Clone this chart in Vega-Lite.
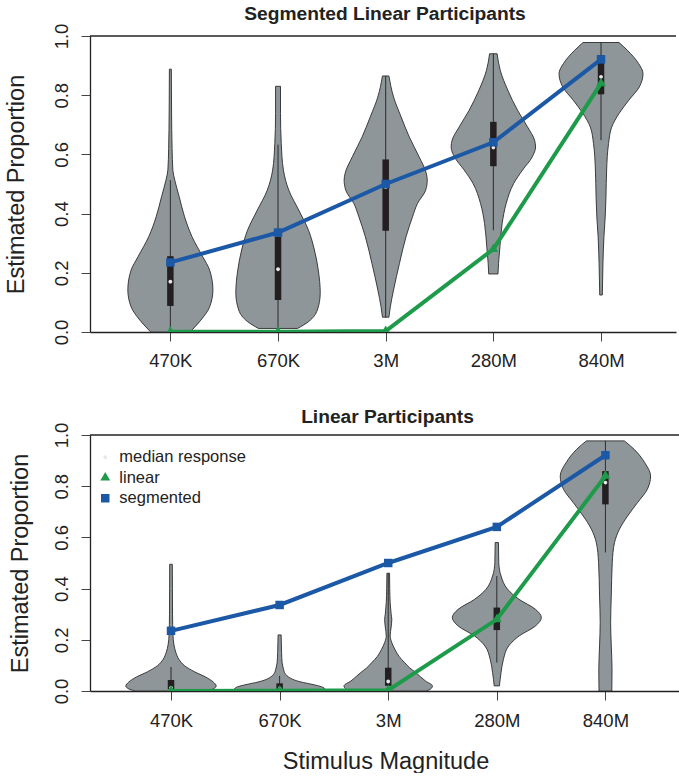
{
  "$schema": "https://vega.github.io/schema/vega-lite/v6.json",
  "padding": {"left": 4, "top": 4, "right": 0, "bottom": 0},
  "spacing": 37,
  "datasets": {
    "vio": [
      {"p":"T","c":1,"y":0.888,"l":0.991,"r":1.009},{"p":"T","c":1,"y":0.75,"l":0.989,"r":1.011},{"p":"T","c":1,"y":0.62,"l":0.984,"r":1.016},{"p":"T","c":1,"y":0.547,"l":0.977,"r":1.023},{"p":"T","c":1,"y":0.513,"l":0.959,"r":1.041},{"p":"T","c":1,"y":0.457,"l":0.918,"r":1.082},{"p":"T","c":1,"y":0.389,"l":0.868,"r":1.132},{"p":"T","c":1,"y":0.322,"l":0.799,"r":1.201},{"p":"T","c":1,"y":0.254,"l":0.699,"r":1.301},{"p":"T","c":1,"y":0.209,"l":0.635,"r":1.365},{"p":"T","c":1,"y":0.142,"l":0.605,"r":1.395},{"p":"T","c":1,"y":0.085,"l":0.635,"r":1.365},{"p":"T","c":1,"y":0.04,"l":0.717,"r":1.283},{"p":"T","c":1,"y":0.0,"l":0.818,"r":1.182},
      {"p":"T","c":2,"y":0.83,"l":1.977,"r":2.023},{"p":"T","c":2,"y":0.738,"l":1.977,"r":2.023},{"p":"T","c":2,"y":0.637,"l":1.97,"r":2.03},{"p":"T","c":2,"y":0.547,"l":1.95,"r":2.05},{"p":"T","c":2,"y":0.479,"l":1.9,"r":2.1},{"p":"T","c":2,"y":0.412,"l":1.808,"r":2.192},{"p":"T","c":2,"y":0.344,"l":1.717,"r":2.283},{"p":"T","c":2,"y":0.277,"l":1.662,"r":2.338},{"p":"T","c":2,"y":0.209,"l":1.626,"r":2.374},{"p":"T","c":2,"y":0.132,"l":1.608,"r":2.392},{"p":"T","c":2,"y":0.074,"l":1.635,"r":2.365},{"p":"T","c":2,"y":0.035,"l":1.717,"r":2.283},{"p":"T","c":2,"y":0.012,"l":1.818,"r":2.182},
      {"p":"T","c":3,"y":0.865,"l":2.97,"r":3.03},{"p":"T","c":3,"y":0.794,"l":2.927,"r":3.073},{"p":"T","c":3,"y":0.727,"l":2.857,"r":3.143},{"p":"T","c":3,"y":0.659,"l":2.781,"r":3.219},{"p":"T","c":3,"y":0.592,"l":2.69,"r":3.31},{"p":"T","c":3,"y":0.536,"l":2.623,"r":3.377},{"p":"T","c":3,"y":0.513,"l":2.614,"r":3.386},{"p":"T","c":3,"y":0.479,"l":2.629,"r":3.371},{"p":"T","c":3,"y":0.434,"l":2.705,"r":3.295},{"p":"T","c":3,"y":0.389,"l":2.751,"r":3.249},{"p":"T","c":3,"y":0.322,"l":2.811,"r":3.189},{"p":"T","c":3,"y":0.232,"l":2.872,"r":3.128},{"p":"T","c":3,"y":0.142,"l":2.927,"r":3.073},{"p":"T","c":3,"y":0.085,"l":2.957,"r":3.043},{"p":"T","c":3,"y":0.05,"l":2.97,"r":3.03},
      {"p":"T","c":4,"y":0.94,"l":3.965,"r":4.035},{"p":"T","c":4,"y":0.884,"l":3.936,"r":4.064},{"p":"T","c":4,"y":0.817,"l":3.866,"r":4.134},{"p":"T","c":4,"y":0.749,"l":3.775,"r":4.225},{"p":"T","c":4,"y":0.693,"l":3.683,"r":4.317},{"p":"T","c":4,"y":0.648,"l":3.617,"r":4.383},{"p":"T","c":4,"y":0.625,"l":3.608,"r":4.392},{"p":"T","c":4,"y":0.592,"l":3.638,"r":4.362},{"p":"T","c":4,"y":0.547,"l":3.729,"r":4.271},{"p":"T","c":4,"y":0.502,"l":3.811,"r":4.189},{"p":"T","c":4,"y":0.434,"l":3.881,"r":4.119},{"p":"T","c":4,"y":0.367,"l":3.918,"r":4.082},{"p":"T","c":4,"y":0.288,"l":3.939,"r":4.061},{"p":"T","c":4,"y":0.232,"l":3.952,"r":4.048},{"p":"T","c":4,"y":0.196,"l":3.957,"r":4.043},
      {"p":"T","c":5,"y":0.978,"l":4.833,"r":5.167},{"p":"T","c":5,"y":0.952,"l":4.756,"r":5.244},{"p":"T","c":5,"y":0.907,"l":4.651,"r":5.349},{"p":"T","c":5,"y":0.873,"l":4.61,"r":5.39},{"p":"T","c":5,"y":0.828,"l":4.644,"r":5.356},{"p":"T","c":5,"y":0.783,"l":4.742,"r":5.258},{"p":"T","c":5,"y":0.738,"l":4.833,"r":5.167},{"p":"T","c":5,"y":0.693,"l":4.9,"r":5.1},{"p":"T","c":5,"y":0.637,"l":4.93,"r":5.07},{"p":"T","c":5,"y":0.547,"l":4.948,"r":5.052},{"p":"T","c":5,"y":0.457,"l":4.954,"r":5.046},{"p":"T","c":5,"y":0.389,"l":4.961,"r":5.039},{"p":"T","c":5,"y":0.322,"l":4.973,"r":5.027},{"p":"T","c":5,"y":0.232,"l":4.982,"r":5.018},{"p":"T","c":5,"y":0.125,"l":4.988,"r":5.012},
      {"p":"B","c":1,"y":0.495,"l":0.988,"r":1.012},{"p":"B","c":1,"y":0.4,"l":0.987,"r":1.013},{"p":"B","c":1,"y":0.3,"l":0.986,"r":1.014},{"p":"B","c":1,"y":0.22,"l":0.982,"r":1.018},{"p":"B","c":1,"y":0.18,"l":0.973,"r":1.027},{"p":"B","c":1,"y":0.15,"l":0.955,"r":1.045},{"p":"B","c":1,"y":0.124,"l":0.928,"r":1.072},{"p":"B","c":1,"y":0.098,"l":0.873,"r":1.127},{"p":"B","c":1,"y":0.075,"l":0.783,"r":1.217},{"p":"B","c":1,"y":0.055,"l":0.683,"r":1.317},{"p":"B","c":1,"y":0.035,"l":0.611,"r":1.389},{"p":"B","c":1,"y":0.02,"l":0.584,"r":1.416},{"p":"B","c":1,"y":0.008,"l":0.611,"r":1.389},{"p":"B","c":1,"y":0.0,"l":0.674,"r":1.326},
      {"p":"B","c":2,"y":0.219,"l":1.986,"r":2.014},{"p":"B","c":2,"y":0.15,"l":1.982,"r":2.018},{"p":"B","c":2,"y":0.111,"l":1.977,"r":2.023},{"p":"B","c":2,"y":0.085,"l":1.964,"r":2.036},{"p":"B","c":2,"y":0.072,"l":1.955,"r":2.045},{"p":"B","c":2,"y":0.055,"l":1.919,"r":2.081},{"p":"B","c":2,"y":0.046,"l":1.882,"r":2.118},{"p":"B","c":2,"y":0.035,"l":1.801,"r":2.199},{"p":"B","c":2,"y":0.026,"l":1.701,"r":2.299},{"p":"B","c":2,"y":0.016,"l":1.611,"r":2.389},{"p":"B","c":2,"y":0.008,"l":1.584,"r":2.416},{"p":"B","c":2,"y":0.0,"l":1.62,"r":2.38},
      {"p":"B","c":3,"y":0.46,"l":2.988,"r":3.012},{"p":"B","c":3,"y":0.4,"l":2.986,"r":3.014},{"p":"B","c":3,"y":0.345,"l":2.982,"r":3.018},{"p":"B","c":3,"y":0.3,"l":2.973,"r":3.027},{"p":"B","c":3,"y":0.28,"l":2.967,"r":3.033},{"p":"B","c":3,"y":0.25,"l":2.973,"r":3.027},{"p":"B","c":3,"y":0.215,"l":2.982,"r":3.018},{"p":"B","c":3,"y":0.19,"l":2.968,"r":3.032},{"p":"B","c":3,"y":0.163,"l":2.939,"r":3.061},{"p":"B","c":3,"y":0.135,"l":2.9,"r":3.1},{"p":"B","c":3,"y":0.111,"l":2.849,"r":3.151},{"p":"B","c":3,"y":0.09,"l":2.801,"r":3.199},{"p":"B","c":3,"y":0.072,"l":2.747,"r":3.253},{"p":"B","c":3,"y":0.055,"l":2.701,"r":3.299},{"p":"B","c":3,"y":0.039,"l":2.656,"r":3.344},{"p":"B","c":3,"y":0.02,"l":2.593,"r":3.407},{"p":"B","c":3,"y":0.007,"l":2.611,"r":3.389},{"p":"B","c":3,"y":0.0,"l":2.656,"r":3.344},
      {"p":"B","c":4,"y":0.58,"l":3.985,"r":4.015},{"p":"B","c":4,"y":0.502,"l":3.982,"r":4.018},{"p":"B","c":4,"y":0.449,"l":3.961,"r":4.039},{"p":"B","c":4,"y":0.397,"l":3.9,"r":4.1},{"p":"B","c":4,"y":0.358,"l":3.795,"r":4.205},{"p":"B","c":4,"y":0.319,"l":3.644,"r":4.356},{"p":"B","c":4,"y":0.287,"l":3.59,"r":4.41},{"p":"B","c":4,"y":0.254,"l":3.644,"r":4.356},{"p":"B","c":4,"y":0.215,"l":3.795,"r":4.205},{"p":"B","c":4,"y":0.176,"l":3.891,"r":4.109},{"p":"B","c":4,"y":0.124,"l":3.939,"r":4.061},{"p":"B","c":4,"y":0.072,"l":3.961,"r":4.039},{"p":"B","c":4,"y":0.02,"l":3.976,"r":4.024},
      {"p":"B","c":5,"y":0.977,"l":4.825,"r":5.175},{"p":"B","c":5,"y":0.944,"l":4.735,"r":5.265},{"p":"B","c":5,"y":0.892,"l":4.638,"r":5.362},{"p":"B","c":5,"y":0.84,"l":4.584,"r":5.416},{"p":"B","c":5,"y":0.788,"l":4.614,"r":5.386},{"p":"B","c":5,"y":0.736,"l":4.704,"r":5.296},{"p":"B","c":5,"y":0.684,"l":4.795,"r":5.205},{"p":"B","c":5,"y":0.632,"l":4.871,"r":5.129},{"p":"B","c":5,"y":0.58,"l":4.916,"r":5.084},{"p":"B","c":5,"y":0.502,"l":4.937,"r":5.063},{"p":"B","c":5,"y":0.371,"l":4.946,"r":5.054},{"p":"B","c":5,"y":0.267,"l":4.952,"r":5.048},{"p":"B","c":5,"y":0.176,"l":4.946,"r":5.054},{"p":"B","c":5,"y":0.085,"l":4.939,"r":5.061},{"p":"B","c":5,"y":0.0,"l":4.941,"r":5.059}
    ],
    "box": [
      {"p":"T","c":1,"lo":0.0,"hi":0.513,"q1":0.088,"q3":0.256},
      {"p":"T","c":2,"lo":0.01,"hi":0.633,"q1":0.108,"q3":0.322},
      {"p":"T","c":3,"lo":0.05,"hi":0.865,"q1":0.342,"q3":0.583},
      {"p":"T","c":4,"lo":0.344,"hi":0.94,"q1":0.56,"q3":0.71},
      {"p":"T","c":5,"lo":0.648,"hi":0.978,"q1":0.803,"q3":0.935},
      {"p":"B","c":1,"lo":0.0,"hi":0.094,"q1":0.007,"q3":0.043},
      {"p":"B","c":2,"lo":0.0,"hi":0.059,"q1":0.004,"q3":0.03},
      {"p":"B","c":3,"lo":0.0,"hi":0.46,"q1":0.02,"q3":0.091},
      {"p":"B","c":4,"lo":0.111,"hi":0.449,"q1":0.238,"q3":0.326},
      {"p":"B","c":5,"lo":0.541,"hi":0.977,"q1":0.729,"q3":0.859}
    ],
    "pts": [
      {"p":"T","c":1,"s":"median response","v":0.17},{"p":"T","c":2,"s":"median response","v":0.212},{"p":"T","c":3,"s":"median response","v":0.49},{"p":"T","c":4,"s":"median response","v":0.623},{"p":"T","c":5,"s":"median response","v":0.862},
      {"p":"T","c":1,"s":"linear","v":0.00047},{"p":"T","c":2,"s":"linear","v":0.00067},{"p":"T","c":3,"s":"linear","v":0.003},{"p":"T","c":4,"s":"linear","v":0.28},{"p":"T","c":5,"s":"linear","v":0.84},
      {"p":"T","c":1,"s":"segmented","v":0.235},{"p":"T","c":2,"s":"segmented","v":0.336},{"p":"T","c":3,"s":"segmented","v":0.5},{"p":"T","c":4,"s":"segmented","v":0.641},{"p":"T","c":5,"s":"segmented","v":0.921},
      {"p":"B","c":1,"s":"median response","v":0.012},{"p":"B","c":2,"s":"median response","v":0.01},{"p":"B","c":3,"s":"median response","v":0.037},{"p":"B","c":4,"s":"median response","v":0.28},{"p":"B","c":5,"s":"median response","v":0.814},
      {"p":"B","c":1,"s":"linear","v":0.00047},{"p":"B","c":2,"s":"linear","v":0.00067},{"p":"B","c":3,"s":"linear","v":0.003},{"p":"B","c":4,"s":"linear","v":0.28},{"p":"B","c":5,"s":"linear","v":0.84},
      {"p":"B","c":1,"s":"segmented","v":0.235},{"p":"B","c":2,"s":"segmented","v":0.336},{"p":"B","c":3,"s":"segmented","v":0.5},{"p":"B","c":4,"s":"segmented","v":0.641},{"p":"B","c":5,"s":"segmented","v":0.921}
    ]
  },
  "vconcat": [
    {
      "width": 586,
      "height": 296,
      "title": {"text": "Segmented Linear Participants", "offset": -1, "dx": 2},
      "layer": [
        {
          "data": {"name": "vio"},
          "transform": [{"filter": "datum.p === 'T'"}],
          "mark": {"type": "area", "orient": "horizontal", "interpolate": "monotone", "fill": "#8f9699", "fillOpacity": 1, "stroke": "#2b2b2b", "strokeWidth": 0.9, "clip": true},
          "encoding": {
            "y": {"field": "y", "type": "quantitative", "scale": {"domain": [0, 1], "nice": false, "zero": false},
                  "axis": {"values": [0, 0.2, 0.4, 0.6, 0.8, 1], "format": ".1f", "labelAngle": 270, "labelAlign": "center", "labelBaseline": "bottom", "labelPadding": 10, "title": "Estimated Proportion", "titlePadding": 24}},
            "x": {"field": "l", "type": "quantitative", "scale": {"domain": [0.3, 5.65], "nice": false, "zero": false},
                  "axis": {"values": [1, 2, 3, 4, 5], "labelExpr": "['','470K','670K','3M','280M','840M'][datum.value]", "title": null, "labelPadding": 10.5}},
            "x2": {"field": "r"},
            "detail": {"field": "c", "type": "nominal"}
          }
        },
        {
          "data": {"name": "box"},
          "transform": [{"filter": "datum.p === 'T'"}],
          "mark": {"type": "rule", "color": "#2b2b2b", "strokeWidth": 1},
          "encoding": {"x": {"field": "c", "type": "quantitative"}, "y": {"field": "lo", "type": "quantitative"}, "y2": {"field": "hi"}}
        },
        {
          "data": {"name": "box"},
          "transform": [{"filter": "datum.p === 'T'"}],
          "mark": {"type": "bar", "size": 6.5, "color": "#231f20"},
          "encoding": {"x": {"field": "c", "type": "quantitative"}, "y": {"field": "q1", "type": "quantitative"}, "y2": {"field": "q3"}}
        },
        {
          "data": {"name": "pts"},
          "transform": [{"filter": "datum.p === 'T' && datum.s === 'median response'"}],
          "mark": {"type": "point", "filled": true, "opacity": 1, "size": 72, "clip": true},
          "encoding": {
            "x": {"field": "c", "type": "quantitative"}, "y": {"field": "v", "type": "quantitative"},
            "color": {"field": "s", "type": "nominal", "scale": {"domain": ["median response", "linear", "segmented"], "range": ["#e8e8e8", "#1e9b4a", "#1b58a6"]}, "legend": null},
            "shape": {"field": "s", "type": "nominal", "scale": {"domain": ["median response", "linear", "segmented"], "range": ["M0.45,0A0.45,0.45 0 1,1 -0.45,0A0.45,0.45 0 1,1 0.45,0Z", "M0,-1.34L1.16,0.67L-1.16,0.67Z", "square"]}, "legend": null}
          }
        },
        {
          "data": {"name": "pts"},
          "transform": [{"filter": "datum.p === 'T' && datum.s === 'segmented'"}],
          "mark": {"type": "line", "color": "#1b58a6", "strokeWidth": 4, "clip": true},
          "encoding": {"x": {"field": "c", "type": "quantitative"}, "y": {"field": "v", "type": "quantitative"}}
        },
        {
          "data": {"name": "pts"},
          "transform": [{"filter": "datum.p === 'T' && datum.s === 'linear'"}],
          "mark": {"type": "line", "color": "#1e9b4a", "strokeWidth": 4, "clip": true},
          "encoding": {"x": {"field": "c", "type": "quantitative"}, "y": {"field": "v", "type": "quantitative"}}
        },
        {
          "data": {"name": "pts"},
          "transform": [{"filter": "datum.p === 'T' && datum.s !== 'median response'"}],
          "mark": {"type": "point", "filled": true, "opacity": 1, "size": 72, "clip": true},
          "encoding": {
            "x": {"field": "c", "type": "quantitative"}, "y": {"field": "v", "type": "quantitative"},
            "color": {"field": "s", "type": "nominal", "legend": null},
            "shape": {"field": "s", "type": "nominal", "legend": null}
          }
        },
        {
          "data": {"values": [{}]},
          "mark": {"type": "rule", "color": "#222222", "strokeWidth": 1.3},
          "encoding": {"y": {"datum": 1}}
        }
      ]
    },
    {
      "width": 591,
      "height": 256,
      "title": {"text": "Linear Participants", "offset": -5, "dx": 2},
      "layer": [
        {
          "data": {"name": "vio"},
          "transform": [{"filter": "datum.p === 'B'"}],
          "mark": {"type": "area", "orient": "horizontal", "interpolate": "monotone", "fill": "#8f9699", "fillOpacity": 1, "stroke": "#2b2b2b", "strokeWidth": 0.9, "clip": true},
          "encoding": {
            "y": {"field": "y", "type": "quantitative", "scale": {"domain": [0, 1], "nice": false, "zero": false},
                  "axis": {"values": [0, 0.2, 0.4, 0.6, 0.8, 1], "format": ".1f", "labelAngle": 270, "labelAlign": "center", "labelBaseline": "bottom", "labelPadding": 10, "title": "Estimated Proportion", "titlePadding": 20}},
            "x": {"field": "l", "type": "quantitative", "scale": {"domain": [0.3, 5.65], "nice": false, "zero": false},
                  "axis": {"values": [1, 2, 3, 4, 5], "labelExpr": "['','470K','670K','3M','280M','840M'][datum.value]", "title": "Stimulus Magnitude", "labelPadding": 11.5, "titlePadding": 19}},
            "x2": {"field": "r"},
            "detail": {"field": "c", "type": "nominal"}
          }
        },
        {
          "data": {"name": "box"},
          "transform": [{"filter": "datum.p === 'B'"}],
          "mark": {"type": "rule", "color": "#2b2b2b", "strokeWidth": 1},
          "encoding": {"x": {"field": "c", "type": "quantitative"}, "y": {"field": "lo", "type": "quantitative"}, "y2": {"field": "hi"}}
        },
        {
          "data": {"name": "box"},
          "transform": [{"filter": "datum.p === 'B'"}],
          "mark": {"type": "bar", "size": 6.5, "color": "#231f20"},
          "encoding": {"x": {"field": "c", "type": "quantitative"}, "y": {"field": "q1", "type": "quantitative"}, "y2": {"field": "q3"}}
        },
        {
          "data": {"name": "pts"},
          "transform": [{"filter": "datum.p === 'B' && datum.s === 'median response'"}],
          "mark": {"type": "point", "filled": true, "opacity": 1, "size": 72, "clip": true},
          "encoding": {
            "x": {"field": "c", "type": "quantitative"}, "y": {"field": "v", "type": "quantitative"},
            "color": {"field": "s", "type": "nominal", "scale": {"domain": ["median response", "linear", "segmented"], "range": ["#e8e8e8", "#1e9b4a", "#1b58a6"]}, "legend": {"orient": "none", "legendX": 7, "legendY": 14, "title": null}},
            "shape": {"field": "s", "type": "nominal", "scale": {"domain": ["median response", "linear", "segmented"], "range": ["M0.45,0A0.45,0.45 0 1,1 -0.45,0A0.45,0.45 0 1,1 0.45,0Z", "M0,-1.34L1.16,0.67L-1.16,0.67Z", "square"]}, "legend": {"orient": "none", "legendX": 7, "legendY": 14, "title": null}}
          }
        },
        {
          "data": {"name": "pts"},
          "transform": [{"filter": "datum.p === 'B' && datum.s === 'segmented'"}],
          "mark": {"type": "line", "color": "#1b58a6", "strokeWidth": 4, "clip": true},
          "encoding": {"x": {"field": "c", "type": "quantitative"}, "y": {"field": "v", "type": "quantitative"}}
        },
        {
          "data": {"name": "pts"},
          "transform": [{"filter": "datum.p === 'B' && datum.s === 'linear'"}],
          "mark": {"type": "line", "color": "#1e9b4a", "strokeWidth": 4, "clip": true},
          "encoding": {"x": {"field": "c", "type": "quantitative"}, "y": {"field": "v", "type": "quantitative"}}
        },
        {
          "data": {"name": "pts"},
          "transform": [{"filter": "datum.p === 'B' && datum.s !== 'median response'"}],
          "mark": {"type": "point", "filled": true, "opacity": 1, "size": 72, "clip": true},
          "encoding": {
            "x": {"field": "c", "type": "quantitative"}, "y": {"field": "v", "type": "quantitative"},
            "color": {"field": "s", "type": "nominal", "legend": {"orient": "none", "legendX": 7, "legendY": 14, "title": null}},
            "shape": {"field": "s", "type": "nominal", "legend": {"orient": "none", "legendX": 7, "legendY": 14, "title": null}}
          }
        },
        {
          "data": {"values": [{}]},
          "mark": {"type": "rule", "color": "#222222", "strokeWidth": 1.3},
          "encoding": {"y": {"datum": 1}}
        }
      ]
    }
  ],
  "resolve": {"scale": {"x": "independent", "y": "independent", "color": "independent", "shape": "independent"}},
  "config": {
    "font": "Liberation Sans",
    "background": "white",
    "view": {"stroke": null},
    "axis": {"grid": false, "domainColor": "#222222", "domainWidth": 1.3, "tickColor": "#444444", "tickSize": 9, "tickWidth": 1, "labelColor": "#222222", "labelFontSize": 18.5, "labelOverlap": false, "labelFlush": false, "titleFontSize": 23.5, "titleFontWeight": "normal", "titleColor": "#222222"},
    "title": {"fontSize": 19.2, "fontWeight": "bold", "color": "#222222", "frame": "group", "anchor": "middle", "baseline": "alphabetic"},
    "legend": {"labelFontSize": 16.5, "labelColor": "#222222", "symbolStrokeWidth": 0, "rowPadding": 3.5, "labelOffset": 5.8, "padding": 0, "symbolSize": 72}
  }
}
